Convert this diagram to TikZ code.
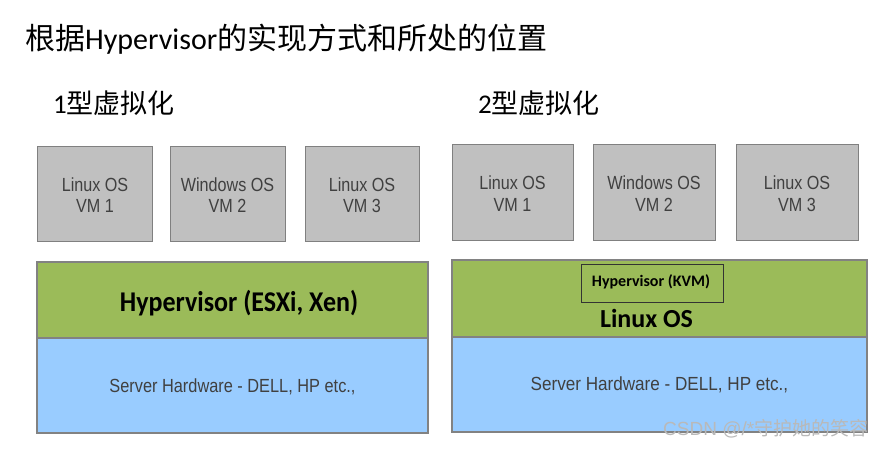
\documentclass[tikz,border=0pt]{standalone}
\usepackage{fontspec}
\setmainfont{Carlito}
\newfontfamily\cjk{Noto Sans CJK SC}
\newfontfamily\arialf{Liberation Sans}
\definecolor{vmgray}{RGB}{192,192,192}
\definecolor{vmedge}{RGB}{128,128,128}
\definecolor{hvgreen}{RGB}{155,187,89}
\definecolor{hwblue}{RGB}{153,204,255}
\definecolor{layedge}{RGB}{130,130,130}
\definecolor{txtgray}{RGB}{64,64,64}
\definecolor{wmgray}{RGB}{185,185,185}
\newcommand{\vmt}[1]{\scalebox{0.85}[1]{\arialf\fontsize{19}{22}\selectfont #1}}
\tikzset{
  vmbox/.style={draw=vmedge,line width=1pt,fill=vmgray},
  greenlay/.style={draw=layedge,line width=1.2pt,fill=hvgreen},
  bluelay/.style={draw=layedge,line width=1.2pt,fill=hwblue},
  vmtxt/.style={anchor=base,inner sep=0pt,text=txtgray},
  hwtxt/.style={anchor=base,inner sep=0pt,text=txtgray},
  bigtxt/.style={anchor=base,inner sep=0pt,text=black,font=\bfseries\fontsize{26}{30}\selectfont},
}
\begin{document}
\begin{tikzpicture}[x=1pt,y=-1pt]
\useasboundingbox (0,0) rectangle (892,449);
% titles
\node[anchor=base west,inner sep=0pt,font=\fontsize{30}{36}\selectfont] (title) at (25,50)
  {{\cjk 根据}Hypervisor{\cjk 的实现方式和所处的位置}};
\node[anchor=base west,inner sep=0pt,font=\fontsize{27}{32}\selectfont] (t1) at (53,114)
  {1{\cjk 型虚拟化}};
\node[anchor=base west,inner sep=0pt,font=\fontsize{27}{32}\selectfont] (t2) at (478,114)
  {2{\cjk 型虚拟化}};
% ---- type 1 ----
\path[vmbox] (37,147) rectangle (152,242);
\path[vmbox] (170,147) rectangle (285,242);
\path[vmbox] (305,147) rectangle (419,242);
\node[vmtxt] (a1a) at (95,192) {\vmt{Linux OS}};
\node[vmtxt] (a1b) at (95,213) {\vmt{VM 1}};
\node[vmtxt] (a2a) at (227.5,192) {\vmt{Windows OS}};
\node[vmtxt] (a2b) at (227.5,213) {\vmt{VM 2}};
\node[vmtxt] (a3a) at (362,192) {\vmt{Linux OS}};
\node[vmtxt] (a3b) at (362,213) {\vmt{VM 3}};
\path[greenlay] (37,262) rectangle (428,338);
\path[bluelay] (37,338) rectangle (428,433);
\node[bigtxt] (hv1) at (239,312) {\scalebox{1}[1.1]{Hypervisor (ESXi, Xen)}};
\node[hwtxt] (hw1) at (232.5,392) {\scalebox{0.86}[1]{\arialf\fontsize{19}{22}\selectfont Server Hardware - DELL, HP etc.,}};
% ---- type 2 ----
\path[vmbox] (452,145) rectangle (573,241);
\path[vmbox] (593,145) rectangle (715,241);
\path[vmbox] (736,145) rectangle (858,241);
\node[vmtxt] (b1a) at (512.5,190) {\vmt{Linux OS}};
\node[vmtxt] (b1b) at (512.5,212) {\vmt{VM 1}};
\node[vmtxt] (b2a) at (654,190) {\vmt{Windows OS}};
\node[vmtxt] (b2b) at (654,212) {\vmt{VM 2}};
\node[vmtxt] (b3a) at (797,190) {\vmt{Linux OS}};
\node[vmtxt] (b3b) at (797,212) {\vmt{VM 3}};
\path[greenlay] (452,260) rectangle (867,337);
\path[bluelay] (452,337) rectangle (867,432);
\draw[draw=black!80,line width=1pt] (581,265) rectangle (723,302);
\node[anchor=base,inner sep=0pt,font=\bfseries\fontsize{16}{20}\selectfont] (kvm) at (651,287) {Hypervisor (KVM)};
\node[bigtxt] (los) at (646.5,327) {Linux OS};
\node[hwtxt] (hw2) at (659.5,390) {\scalebox{0.9}[1]{\arialf\fontsize{19}{22}\selectfont Server Hardware - DELL, HP etc.,}};
% watermark
\node[anchor=base west,inner sep=0pt,text=wmgray,font=\arialf\fontsize{19}{22}\selectfont] (wm) at (663,435)
  {CSDN @/*{\cjk 守护她的笑容}};
\end{tikzpicture}
\end{document}
